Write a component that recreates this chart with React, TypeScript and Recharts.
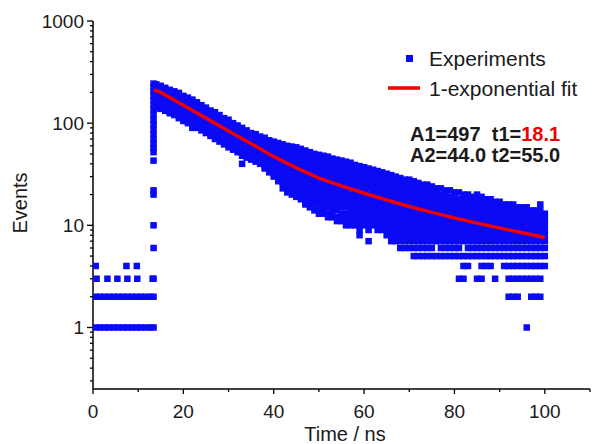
import { ComposedChart, Scatter, XAxis, YAxis } from 'recharts';

// background counts before the excitation pulse (one point per time for each level)
const preOnes = [0.6, 1.6, 2.6, 3.6, 4.6, 5.6, 6.6, 7.6, 8.6, 9.6, 10.6, 11.6, 12.6, 13.4];
const preTwos = [0.6, 1.6, 2.6, 3.6, 4.6, 5.6, 6.6, 7.6, 8.6, 9.6, 10.6, 11.6, 12.6, 13.4];
const preThrees = [0.8, 3.2, 5.4, 7.6, 9.8, 13.2];
const preFours = [0.6, 7.4, 9.7];

// rising edge channel
const riseTime = 13.4;
const riseCounts = [244, 225, 205, 185, 167, 150, 135, 121, 108, 97, 87, 78, 70, 63, 57, 52, 43, 22, 20, 10, 6, 3];

// decay: counts per 1 ns column, starting at t = 14
const bandStart = 14;
const bandCounts: number[][] = [
  [240, 215, 195, 176, 160, 146, 140],
  [232, 208, 188, 170, 155, 142, 138],
  [222, 200, 182, 165, 150, 136, 132],
  [212, 192, 174, 158, 142, 130, 125],
  [205, 185, 167, 151, 137, 124, 120],
  [198, 178, 160, 144, 130, 118, 112],
  [185, 168, 152, 138, 125, 114, 105],
  [178, 160, 145, 131, 118, 108, 100],
  [170, 154, 139, 125, 113, 103, 95, 90],
  [160, 145, 131, 118, 106, 97, 90],
  [150, 136, 123, 111, 100, 92, 85],
  [142, 128, 116, 105, 95, 87, 80],
  [133, 120, 109, 99, 90, 82, 75],
  [128, 115, 104, 94, 85, 77, 70],
  [120, 108, 98, 89, 81, 73, 66],
  [112, 101, 92, 84, 76, 69, 62],
  [108, 97, 88, 80, 72, 65, 58],
  [100, 90, 82, 74, 67, 61, 55],
  [95, 86, 78, 70, 63, 57, 52],
  [90, 81, 73, 66, 60, 54, 48, 40],
  [85, 77, 70, 63, 57, 51, 46],
  [80, 72, 65, 59, 53, 48, 44],
  [78, 70, 63, 57, 51, 46, 42],
  [74, 67, 60, 54, 49, 44, 40],
  [72, 65, 58, 52, 47, 42, 38, 36],
  [68, 61, 55, 50, 45, 40, 36, 33],
  [66, 59, 53, 48, 43, 39, 35, 32, 30],
  [64, 57, 51, 46, 41, 37, 33, 30, 27],
  [62, 56, 50, 45, 40, 36, 32, 29, 26, 23],
  [60, 54, 48, 43, 39, 35, 31, 28, 25, 23, 21],
  [59, 53, 47, 42, 38, 34, 30, 27, 24, 22, 20],
  [58, 52, 46, 41, 37, 33, 29, 26, 23, 21, 19],
  [56, 50, 45, 40, 36, 32, 28, 25, 22, 20, 18],
  [54, 48, 43, 38, 34, 30, 27, 24, 21, 19, 17, 16],
  [52, 46, 41, 37, 33, 29, 26, 23, 21, 19, 17, 15],
  [50, 45, 40, 36, 32, 28, 25, 22, 20, 18, 16, 14],
  [49, 44, 39, 35, 31, 28, 25, 22, 20, 18, 16, 14, 13],
  [48, 43, 38, 34, 30, 27, 24, 21, 19, 17, 15, 14, 13],
  [47, 42, 37, 33, 29, 26, 23, 21, 19, 17, 15, 13, 12],
  [45, 40, 36, 32, 28, 25, 22, 20, 18, 16, 14, 13, 12],
  [44, 39, 35, 31, 28, 25, 22, 20, 18, 16, 14, 12, 11],
  [43, 38, 34, 30, 27, 24, 21, 19, 17, 15, 13, 12, 11],
  [42, 37, 33, 29, 26, 23, 21, 19, 17, 15, 13, 12, 11, 10],
  [41, 36, 32, 29, 26, 23, 20, 18, 16, 14, 13, 12, 11, 10],
  [39, 35, 31, 28, 25, 22, 20, 18, 16, 14, 13, 12, 11, 10],
  [38, 34, 30, 27, 24, 21, 19, 17, 15, 14, 13, 12, 11, 10, 9, 8],
  [37, 33, 29, 26, 23, 21, 19, 17, 15, 14, 13, 12, 11, 10],
  [36, 32, 29, 26, 23, 20, 18, 16, 15, 14, 13, 12, 11, 10, 9, 7],
  [35, 31, 28, 25, 22, 20, 18, 16, 15, 14, 13, 12, 11, 10],
  [34, 30, 27, 24, 22, 20, 18, 16, 15, 14, 13, 12, 11, 10, 9],
  [33, 30, 27, 24, 21, 19, 17, 16, 15, 14, 13, 12, 11, 10, 9],
  [32, 29, 26, 23, 21, 19, 17, 16, 15, 14, 13, 12, 11, 10, 9, 8],
  [31, 28, 25, 22, 20, 18, 17, 16, 15, 14, 13, 12, 11, 10, 9, 8, 7],
  [30, 27, 24, 22, 20, 18, 17, 16, 15, 14, 13, 12, 11, 10, 9, 8, 7],
  [29, 26, 23, 21, 19, 18, 17, 16, 15, 14, 13, 12, 11, 10, 9, 8, 7, 6],
  [28, 25, 23, 21, 19, 17, 16, 15, 14, 13, 12, 11, 10, 9, 8, 7, 6],
  [28, 25, 22, 20, 18, 17, 16, 15, 14, 13, 12, 11, 10, 9, 8, 7, 6],
  [27, 24, 21, 19, 17, 15, 14, 13, 12, 11, 10, 9, 8, 7, 6, 5],
  [26, 23, 21, 19, 17, 15, 14, 13, 12, 11, 10, 9, 8, 7, 6, 5],
  [25, 22, 20, 18, 16, 14, 13, 12, 11, 10, 9, 8, 7, 6, 5],
  [25, 22, 20, 18, 16, 14, 13, 12, 11, 10, 9, 8, 7, 6, 5],
  [24, 21, 19, 17, 15, 14, 13, 12, 11, 10, 9, 8, 7, 6, 5],
  [23, 21, 19, 17, 15, 14, 13, 12, 11, 10, 9, 8, 7, 5],
  [23, 20, 18, 16, 14, 13, 12, 11, 10, 9, 8, 7, 6, 5],
  [22, 20, 18, 16, 14, 13, 12, 11, 10, 9, 8, 7, 6, 5],
  [22, 19, 17, 15, 14, 13, 12, 11, 10, 9, 8, 7, 6, 5],
  [21, 19, 17, 15, 14, 13, 12, 11, 10, 9, 8, 7, 6, 5],
  [21, 18, 16, 14, 13, 12, 11, 10, 9, 8, 7, 6, 5, 3],
  [20, 18, 16, 14, 13, 12, 11, 10, 9, 8, 7, 5, 4, 3],
  [20, 18, 16, 14, 13, 12, 11, 10, 9, 8, 7, 6, 5, 4],
  [19, 17, 15, 14, 13, 12, 11, 10, 9, 8, 7, 6, 5],
  [20, 18, 16, 14, 13, 12, 11, 10, 9, 8, 7, 6, 5, 3],
  [19, 17, 15, 14, 13, 12, 11, 10, 9, 8, 7, 6, 5, 4, 3],
  [18, 16, 15, 14, 13, 12, 11, 10, 9, 8, 7, 6, 5, 4],
  [18, 16, 15, 14, 13, 12, 11, 10, 9, 8, 7, 6, 5, 4],
  [17, 16, 15, 14, 13, 12, 11, 10, 9, 8, 7, 6, 5, 3],
  [17, 15, 14, 13, 12, 11, 10, 9, 8, 7, 6, 5],
  [16, 15, 14, 13, 12, 11, 10, 9, 8, 7, 6, 5, 4],
  [16, 15, 14, 13, 12, 11, 10, 9, 8, 7, 6, 5, 4, 3, 2],
  [16, 14, 13, 12, 11, 10, 9, 8, 7, 6, 5, 4, 3, 2],
  [15, 14, 13, 12, 11, 10, 9, 8, 7, 6, 5, 4, 3, 2],
  [15, 14, 13, 12, 11, 10, 9, 8, 7, 6, 5, 4, 3],
  [15, 14, 13, 12, 11, 10, 9, 8, 7, 6, 5, 4, 3, 1],
  [14, 13, 12, 11, 10, 9, 8, 7, 6, 5, 4, 3, 2],
  [14, 13, 12, 11, 10, 9, 8, 7, 6, 5, 4, 3, 2],
  [16, 14, 13, 12, 11, 10, 9, 8, 7, 6, 5, 4, 3, 2],
  [13, 12, 11, 10, 9, 8, 7, 6, 5, 4],
];

// fit curve
const fitTimes = [13.5, 15, 20, 25, 30, 35, 40, 45, 50, 55, 60, 65, 70, 75, 80, 85, 90, 95, 100];
const fitValues = [212, 200, 150, 112, 84, 63, 47, 36.5, 29, 24.3, 20.6, 17.7, 15.3, 13.4, 11.8, 10.5, 9.4, 8.45, 7.6];

const xTicks = [0, 10, 20, 30, 40, 50, 60, 70, 80, 90, 100, 110];
const xMajor = [0, 20, 40, 60, 80, 100];
const yTicks = [
  0.3, 0.4, 0.5, 0.6, 0.7, 0.8, 0.9,
  1, 2, 3, 4, 5, 6, 7, 8, 9,
  10, 20, 30, 40, 50, 60, 70, 80, 90,
  100, 200, 300, 400, 500, 600, 700, 800, 900, 1000,
];
const yMajor = [1, 10, 100, 1000];

const BLUE = '#0a0af5';
const RED = '#f00000';
const FONT = '"Liberation Sans", Arial, Helvetica, sans-serif';

const points: { t: number; v: number }[] = [];
preOnes.forEach((t) => points.push({ t, v: 1 }));
preTwos.forEach((t) => points.push({ t, v: 2 }));
preThrees.forEach((t) => points.push({ t, v: 3 }));
preFours.forEach((t) => points.push({ t, v: 4 }));
riseCounts.forEach((v) => points.push({ t: riseTime, v }));
bandCounts.forEach((col, i) => col.forEach((v) => points.push({ t: bandStart + i, v })));

const fitData = fitTimes.map((t, i) => ({ t, v: fitValues[i] }));

const Square = (props: any) => {
  const { cx, cy } = props;
  if (cx == null || cy == null) return null;
  return <rect x={cx - 3.25} y={cy - 3.25} width={6.5} height={6.5} fill={BLUE} />;
};

const NoDot = () => <g />;

const YTick = (props: any) => {
  const { x, y, payload } = props;
  const major = yMajor.includes(payload.value);
  return (
    <g>
      <line x1={x - (major ? 6 : 3)} x2={x} y1={y} y2={y} stroke="#000" strokeWidth={1.3} />
      {major && (
        <text x={x - 9} y={y} dy={7} textAnchor="end" fontSize={19} fontFamily={FONT} fill="#1a1a1a">
          {payload.value}
        </text>
      )}
    </g>
  );
};

const XTick = (props: any) => {
  const { x, y, payload } = props;
  const major = xMajor.includes(payload.value);
  return (
    <g>
      <line x1={x} x2={x} y1={y} y2={y + (major ? 5 : 3)} stroke="#000" strokeWidth={1.3} />
      {major && (
        <text x={x} y={y + 29} textAnchor="middle" fontSize={19} fontFamily={FONT} fill="#1a1a1a">
          {payload.value}
        </text>
      )}
    </g>
  );
};

export default function App() {
  return (
    <div style={{ position: 'absolute', left: 0, top: 0, width: 592, height: 444, background: '#fff' }}>
      <ComposedChart width={592} height={444} margin={{ top: 21, right: 2, bottom: 0, left: 0 }}>
        <XAxis
          dataKey="t"
          type="number"
          domain={[0, 110]}
          ticks={xTicks}
          interval={0}
          tickSize={0}
          tickMargin={0}
          tickLine={false}
          tick={<XTick />}
          height={55}
          axisLine={{ stroke: '#000', strokeWidth: 1.5 }}
          allowDataOverflow
        />
        <YAxis
          dataKey="v"
          type="number"
          scale="log"
          domain={[0.25, 1000]}
          ticks={yTicks}
          interval={0}
          tickSize={0}
          tickMargin={0}
          tickLine={false}
          tick={<YTick />}
          width={93}
          axisLine={{ stroke: '#000', strokeWidth: 1.5 }}
          allowDataOverflow
        />
        <Scatter data={points} dataKey="v" shape={<Square />} isAnimationActive={false} />
        <Scatter
          data={fitData}
          dataKey="v"
          shape={<NoDot />}
          line={{ stroke: RED, strokeWidth: 3.5 }}
          lineType="joint"
          isAnimationActive={false}
        />
      </ComposedChart>
      <svg
        width={592}
        height={444}
        style={{ position: 'absolute', left: 0, top: 0, pointerEvents: 'none' }}
        fontFamily={FONT}
      >
        <text transform="rotate(-90)" x={-203} y={27} textAnchor="middle" fontSize={20} fill="#1a1a1a">
          Events
        </text>
        <text x={345} y={441} textAnchor="middle" fontSize={20} fill="#1a1a1a">
          Time / ns
        </text>
        <rect x={406} y={55} width={7} height={7} fill={BLUE} />
        <text x={429} y={66} fontSize={21} fill="#1a1a1a">
          Experiments
        </text>
        <line x1={388} x2={420} y1={88} y2={88} stroke={RED} strokeWidth={3.5} />
        <text x={429} y={96} fontSize={21} fill="#1a1a1a">
          1-exponential fit
        </text>
        <text x={410} y={141} fontSize={20} fontWeight="bold" fill="#1a1a1a">
          {'A1=497\u00a0\u00a0t1='}
          <tspan fill={RED}>18.1</tspan>
        </text>
        <text x={410} y={162} fontSize={20} fontWeight="bold" fill="#1a1a1a">
          A2=44.0 t2=55.0
        </text>
      </svg>
    </div>
  );
}
